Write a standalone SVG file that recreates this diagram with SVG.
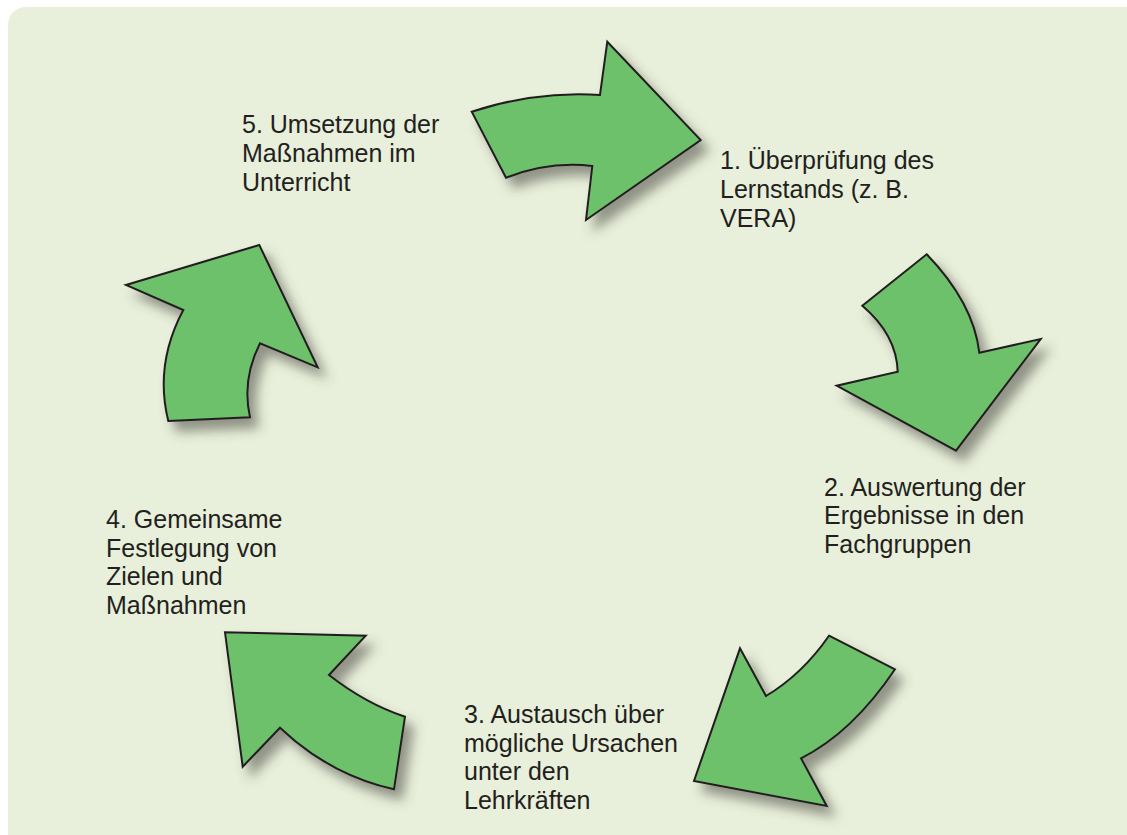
<svg xmlns="http://www.w3.org/2000/svg" width="1127" height="835" viewBox="0 0 1127 835">
<defs>
<filter id="sh" x="-30%" y="-30%" width="170%" height="170%">
<feDropShadow dx="8" dy="10" stdDeviation="6" flood-color="#4a4a40" flood-opacity="0.55"/>
</filter>
</defs>
<style>
.arrow{fill:#6cc16a;stroke:#231f20;stroke-width:2;stroke-linejoin:miter;filter:url(#sh)}
.lbl{font-family:"Liberation Sans",Arial,sans-serif;font-size:25px;fill:#231f20}
</style>
<rect x="0" y="0" width="1127" height="835" fill="#ffffff"/>
<rect x="8" y="7" width="1150" height="860" rx="18" ry="18" fill="#e8efda"/>
<g id="connectors">
<path id="arrow1" class="arrow" d="M471.7,111.7 Q536.2,90.7 600,95 L607.3,41.7 L700.7,140 L586,220 L592.3,166 Q548.8,161 506,177.7 Z"/>
<path id="arrow2" class="arrow" d="M926.7,254.3 Q973.6,303.1 979.3,352.7 L1040.7,339 L956,450.7 L836.7,385.7 L897.7,371.7 Q896.6,334.7 862.3,305.7 Z"/>
<path id="arrow3" class="arrow" d="M829,635.7 L895,669.3 Q852,733 801,758.3 L826.7,806 L694,781 L740,648.3 L766,696 Q802.5,674 829,635.7 Z"/>
<path id="arrow4" class="arrow" d="M225,632.3 L365.7,635.7 L329,675 Q366.4,704.1 405,716.7 L394,789.3 Q329.6,774.9 280,727.7 L242.7,766.7 Z"/>
<path id="arrow5" class="arrow" d="M168.3,421 L250,417.3 Q241.6,379.7 260,343.3 L317.7,367.3 L259.3,245 L126,285 L183.3,310 Q154.2,364.5 168.3,421 Z"/>
</g>
<g id="node1">
<text class="lbl" x="720" y="169.3">1. Überprüfung des</text>
<text class="lbl" x="720" y="198">Lernstands (z. B.</text>
<text class="lbl" x="720" y="226.7">VERA)</text>
</g>
<g id="node2">
<text class="lbl" x="824" y="495.7">2. Auswertung der</text>
<text class="lbl" x="824" y="524.4">Ergebnisse in den</text>
<text class="lbl" x="824" y="553">Fachgruppen</text>
</g>
<g id="node3">
<text class="lbl" x="464" y="723">3. Austausch über</text>
<text class="lbl" x="464" y="751.7">mögliche Ursachen</text>
<text class="lbl" x="464" y="780.4">unter den</text>
<text class="lbl" x="464" y="809.1">Lehrkräften</text>
</g>
<g id="node4">
<text class="lbl" x="106" y="528">4. Gemeinsame</text>
<text class="lbl" x="106" y="556.7">Festlegung von</text>
<text class="lbl" x="106" y="585.4">Zielen und</text>
<text class="lbl" x="106" y="614.1">Maßnahmen</text>
</g>
<g id="node5">
<text class="lbl" x="242" y="133.3">5. Umsetzung der</text>
<text class="lbl" x="242" y="162">Maßnahmen im</text>
<text class="lbl" x="242" y="190.7">Unterricht</text>
</g>
</svg>
